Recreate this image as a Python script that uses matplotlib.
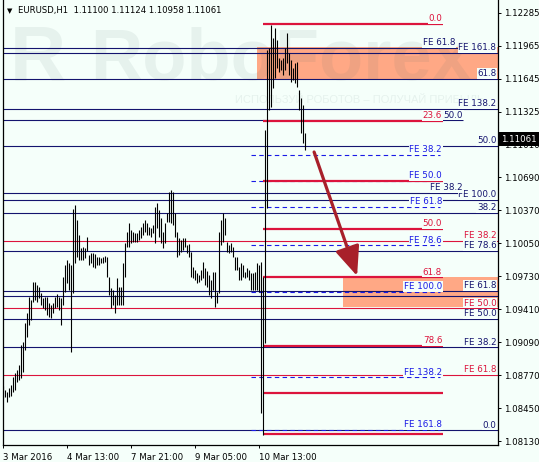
import matplotlib
matplotlib.use("Agg")
import matplotlib.pyplot as plt
from matplotlib.patches import Rectangle, FancyArrowPatch

# Colours
BG = "#F5FFFA"
NAVY = "#14146E"
RED = "#DC143C"
BLUE = "#1A1AE6"
SALMON = "#FFA885"
ARROW = "#A8202A"

# EURUSD H1 bars, 3 Mar 05:00 .. 10 Mar
bar_high = [
    1.08668, 1.08629, 1.08610, 1.08649, 1.08678, 1.08755, 1.08794, 1.08823, 1.08872, 1.09066,
    1.09095, 1.09279, 1.09376, 1.09531, 1.09502, 1.09676, 1.09676, 1.09647, 1.09628, 1.09570,
    1.09521, 1.09531, 1.09531, 1.09473, 1.09453, 1.09473, 1.09531, 1.09560, 1.09531, 1.09521,
    1.09725, 1.09841, 1.09890, 1.09861, 1.09841, 1.10384, 1.10423, 1.10278, 1.10132, 1.10006,
    1.10016, 1.10006, 1.10113, 1.09938, 1.09958, 1.09958, 1.09948, 1.09919, 1.09919, 1.09909,
    1.09919, 1.09929, 1.09919, 1.09725, 1.09618, 1.09599, 1.09550, 1.09715, 1.09628, 1.09628,
    1.09861, 1.10055, 1.10161, 1.10249, 1.10181, 1.10161, 1.10152, 1.10152, 1.10181, 1.10210,
    1.10249, 1.10278, 1.10249, 1.10210, 1.10200, 1.10229, 1.10404, 1.10443, 1.10375, 1.10297,
    1.10161, 1.10249, 1.10346, 1.10549, 1.10569, 1.10549, 1.10346, 1.10161, 1.10103, 1.10084,
    1.10103, 1.10103, 1.10035, 1.10045, 1.09967, 1.09822, 1.09793, 1.09764, 1.09744, 1.09793,
    1.09870, 1.09812, 1.09783, 1.09744, 1.09696, 1.09773, 1.09773, 1.09580, 1.10161, 1.10278,
    1.10346, 1.10297, 1.10064, 1.10035, 1.10055, 1.10016, 1.09919, 1.09919, 1.09822, 1.09861,
    1.09841, 1.09773, 1.09812, 1.09793, 1.09764, 1.09764, 1.09773, 1.09861, 1.09841, 1.09870,
    1.09725, 1.11150, 1.11926, 1.11946, 1.12169, 1.12043, 1.12140, 1.12023, 1.11849, 1.11829,
    1.11849, 1.11946, 1.12091, 1.11897, 1.11829, 1.11752, 1.11800, 1.11810, 1.11538, 1.11461,
    1.11393, 1.11124,
]
bar_low = [
    1.08552, 1.08561, 1.08513, 1.08561, 1.08571, 1.08610, 1.08629, 1.08707, 1.08726, 1.08746,
    1.08804, 1.09017, 1.09143, 1.09260, 1.09308, 1.09483, 1.09502, 1.09483, 1.09521, 1.09453,
    1.09424, 1.09405, 1.09356, 1.09337, 1.09327, 1.09376, 1.09424, 1.09434, 1.09405, 1.09260,
    1.09453, 1.09580, 1.09667, 1.09599, 1.08998, 1.09570, 1.09861, 1.09919, 1.09890, 1.09890,
    1.09890, 1.09909, 1.09977, 1.09841, 1.09861, 1.09822, 1.09812, 1.09841, 1.09841, 1.09861,
    1.09861, 1.09870, 1.09725, 1.09550, 1.09424, 1.09453, 1.09376, 1.09453, 1.09453, 1.09453,
    1.09453, 1.09725, 1.10016, 1.10016, 1.10055, 1.10064, 1.10064, 1.10064, 1.10084, 1.10103,
    1.10132, 1.10161, 1.10132, 1.10132, 1.10113, 1.10152, 1.10055, 1.10200, 1.10113, 1.10055,
    1.10006, 1.10055, 1.10258, 1.10258, 1.10249, 1.10229, 1.10113, 1.09919, 1.09938, 1.09967,
    1.09987, 1.10016, 1.09958, 1.09919, 1.09725, 1.09715, 1.09696, 1.09667, 1.09676, 1.09696,
    1.09715, 1.09647, 1.09628, 1.09550, 1.09521, 1.09599, 1.09434, 1.09473, 1.09570, 1.10035,
    1.10064, 1.10132, 1.09967, 1.09958, 1.09967, 1.09919, 1.09793, 1.09793, 1.09696, 1.09696,
    1.09725, 1.09715, 1.09725, 1.09696, 1.09599, 1.09599, 1.09599, 1.09599, 1.09580, 1.08406,
    1.08193, 1.09085, 1.10394, 1.11344, 1.11373, 1.11558, 1.11655, 1.11752, 1.11713, 1.11732,
    1.11684, 1.11732, 1.11800, 1.11684, 1.11616, 1.11635, 1.11606, 1.11567, 1.11344, 1.11121,
    1.11024, 1.10958,
]

x_ticks = [0, 32, 64, 96, 128]
x_labels = ["3 Mar 2016", "4 Mar 13:00", "7 Mar 21:00", "9 Mar 05:00", "10 Mar 13:00"]
y_ticks = [1.08130, 1.08450, 1.08770, 1.09090, 1.09410, 1.09730, 1.10050,
           1.10370, 1.10690, 1.11010, 1.11325, 1.11645, 1.11965, 1.12285]
last_price = 1.11061

# Fibonacci retracement of the 10 Mar spike (red, thick); some labels are hidden
ret_prices = [1.12178, 1.11240, 1.10659, 1.10190, 1.09721, 1.09056, 1.08603, 1.08203]
ret_labels = ["0.0", "23.6", "", "50.0", "61.8", "78.6", "", ""]

# Fibonacci expansion (blue, dashed)
fe_prices = [1.10908, 1.10656, 1.10401, 1.10032, 1.09582, 1.08752, 1.08241]
fe_labels = ["FE 38.2", "FE 50.0", "FE 61.8", "FE 78.6", "FE 100.0", "FE 138.2", "FE 161.8"]

# long-term levels (navy, full width)
navy_prices = [1.11894, 1.11648, 1.11351, 1.10995, 1.10472, 1.10348, 1.09977,
               1.09541, 1.09592, 1.09315, 1.09043, 1.08238]
navy_labels = ["FE 161.8", "61.8", "FE 138.2", "50.0", "FE 100.0", "38.2", "FE 78.6",
               "", "FE 61.8", "FE 50.0", "FE 38.2", "0.0"]

# second navy group, ends before the axis
navy2_prices = [1.11948, 1.11244, 1.10537]
navy2_labels = ["FE 61.8", "50.0", "FE 38.2"]

# red expansion (thin, full width)
redfe_prices = [1.10074, 1.09421, 1.08772]
redfe_labels = ["FE 38.2", "FE 50.0", "FE 61.8"]

# target zones
zone_start = [126.9, 169.9]
zone_low = [1.11635, 1.09434]
zone_high = [1.11955, 1.09725]

# forecast arrow (bar index, price)
arrow_from = (155.4, 1.10937)
arrow_to = (176.9, 1.09735)

W, H = 539, 462
fig = plt.figure(figsize=(W / 100, H / 100), dpi=100, facecolor=BG)
ax = fig.add_axes([2.5 / W, 17 / H, 495 / W, 445 / H])
ax.set_facecolor(BG)
xmin, xmax = -0.4, 247.1
ax.set_xlim(xmin, xmax)
ax.set_ylim(1.08096, 1.12411)

# watermark
wm = dict(color="#4A6A6A", alpha=0.085, transform=fig.transFigure, zorder=1.5,
          family="Liberation Sans")
ax.text(10 / W, 1 - 80 / H, "R", fontsize=56, fontweight="bold", va="baseline", **wm)
ax.text(90 / W, 1 - 80 / H, "RoboForex", fontsize=52, fontweight="bold", va="baseline", **wm)
ax.text(235 / W, 1 - 100 / H, "ИСПОЛЬЗУЙ РОБОТОВ – ПОЛУЧАЙ ПРИБЫЛЬ", fontsize=8,
        va="center", **wm)

for x0, lo, hi in zip(zone_start, zone_low, zone_high):
    ax.add_patch(Rectangle((x0, lo), xmax - x0, hi - lo, fc=SALMON, ec="none", zorder=1))

box = dict(boxstyle="square,pad=0.08", fc=BG, ec="none")


def level_label(x, y, text, color, z):
    if text:
        ax.annotate(text, xy=(x, y), xytext=(0, 0.6), textcoords="offset points",
                    ha="right", va="bottom", fontsize=6.3, color=color, bbox=box, zorder=z)


for p, lab in zip(navy_prices, navy_labels):
    ax.hlines(p, xmin, xmax, color=NAVY, lw=0.8, zorder=2)
    level_label(246.6, p, lab, NAVY, 4)
for p, lab, xr in zip(navy2_prices, navy2_labels, [225.9, 229.9, 229.9]):
    ax.hlines(p, xmin, 229.9, color=NAVY, lw=0.8, zorder=2)
    level_label(xr, p, lab, NAVY, 4)
for p, lab in zip(redfe_prices, redfe_labels):
    ax.hlines(p, xmin, xmax, color=RED, lw=0.8, zorder=2)
    level_label(246.6, p, lab, RED, 4)
for p, lab in zip(ret_prices, ret_labels):
    ax.hlines(p, 129.9, 219.9, color=RED, lw=1.6, zorder=2.2)
    level_label(219.4, p, lab, RED, 4)
for p, lab in zip(fe_prices, fe_labels):
    ax.hlines(p, 123.9, 218.4, color=BLUE, lw=0.8, linestyles=(0, (4, 3)), zorder=2.1)
    level_label(219.4, p, lab, BLUE, 4.5)

# price bars
idx = range(len(bar_high))
ax.vlines(idx, bar_low, bar_high, color="black", lw=0.8, zorder=3)

ax.add_patch(FancyArrowPatch(arrow_from, arrow_to,
                             arrowstyle="-|>,head_length=1.0,head_width=0.42",
                             mutation_scale=18, lw=2.3, color=ARROW,
                             shrinkA=0, shrinkB=0, zorder=5))

# axes
ax.yaxis.tick_right()
ax.set_yticks(y_ticks)
ax.set_yticklabels([f"{v:.5f}" for v in y_ticks])
ax.set_xticks(x_ticks)
ax.set_xticklabels(x_labels, ha="left")
ax.tick_params(axis="both", direction="out", length=2.5, width=0.7, labelsize=6.2,
               pad=2, colors="black")
ax.tick_params(axis="x", pad=3)
ax.spines["top"].set_visible(False)
for s in ("left", "right", "bottom"):
    ax.spines[s].set_linewidth(0.9)

ax.text(1 + 4 / 495, last_price, f"{last_price:.5f}", transform=ax.get_yaxis_transform(),
        ha="left", va="center", fontsize=6.2, color="white", clip_on=False, zorder=10,
        bbox=dict(boxstyle="square,pad=0.3", fc="black", ec="none"))

fig.text(7 / W, 1 - 11 / H, "▼", fontsize=5, va="center")
fig.text(18 / W, 1 - 11 / H, "EURUSD,H1  1.11100 1.11124 1.10958 1.11061",
         fontsize=6.1, va="center")

fig.savefig("out.png", dpi=100, facecolor=BG)
